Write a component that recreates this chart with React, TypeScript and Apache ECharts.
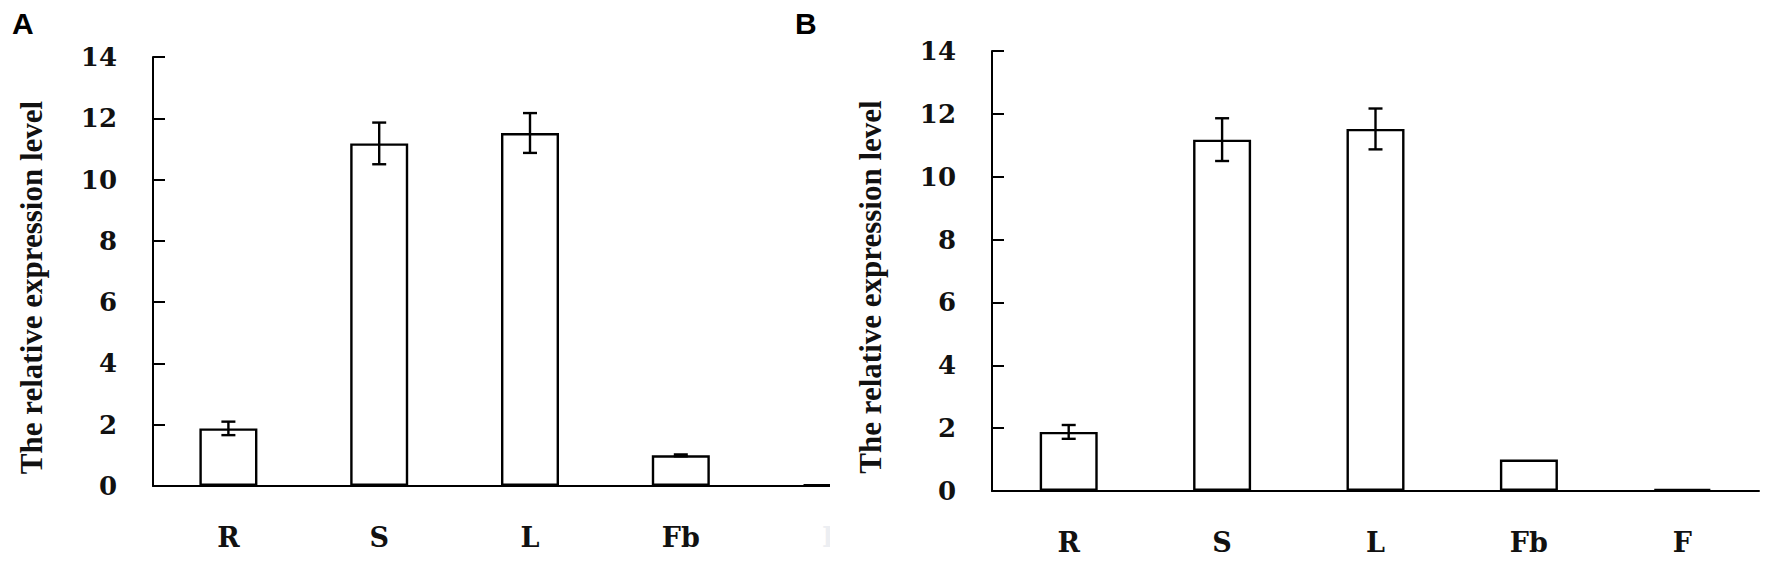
import React, { useEffect, useRef } from 'react';
import * as echarts from 'echarts';

// ---- data ----
const categories = ['R', 'S', 'L', 'Fb', 'F'];
const valuesA = [1.88, 11.18, 11.52, 1.0, 0.06];
const errorsA = [0.22, 0.68, 0.65, 0.03, 0];
const valuesB = [1.88, 11.18, 11.52, 1.0, 0.06];
const errorsB = [0.22, 0.68, 0.65, 0, 0];
const yMin = 0;
const yMax = 14;
const yStep = 2;
const yAxisTitle = 'The relative expression level';
const panelLetters = ['A', 'B'];

const serif = 'DejaVu Serif';
const titleFont = 'Liberation Serif';
const ink = '#111111';

function buildOption(
  values: number[],
  errors: number[],
  grid: { left: number; top: number; width: number; height: number },
  letter: string,
  letterX: number,
  fadedIndex: number,
) {
  const lineStyle = { color: '#000', width: 2 };
  return {
    animation: false,
    backgroundColor: 'transparent',
    grid: { ...grid, containLabel: false },
    graphic: [
      {
        type: 'text',
        left: letterX,
        top: 8,
        style: {
          text: letter,
          fontFamily: 'Liberation Sans',
          fontWeight: 'bold',
          fontSize: 30,
          fill: '#000',
        },
      },
    ],
    xAxis: {
      type: 'category',
      data: categories,
      boundaryGap: true,
      axisLine: { show: true, lineStyle },
      axisTick: { show: false },
      splitLine: { show: false },
      axisLabel: {
        margin: 38,
        fontFamily: serif,
        fontWeight: 'bold',
        fontSize: 27,
        color: (_v: any, i: number) => (i === fadedIndex ? '#eceef2' : ink),
      },
    },
    yAxis: {
      type: 'value',
      min: yMin,
      max: yMax,
      interval: yStep,
      name: yAxisTitle,
      nameLocation: 'middle',
      nameRotate: 90,
      nameGap: 106,
      nameTextStyle: {
        fontFamily: titleFont,
        fontWeight: 'bold',
        fontSize: 31,
        color: ink,
        padding: [0, 32, 0, 0],
      },
      axisLine: { show: true, lineStyle },
      axisTick: { show: true, inside: true, length: 12, lineStyle },
      splitLine: { show: false },
      axisLabel: {
        margin: 36,
        fontFamily: serif,
        fontWeight: 'bold',
        fontSize: 26,
        color: ink,
      },
    },
    series: [
      {
        type: 'bar',
        data: values,
        barWidth: 58,
        itemStyle: { color: '#ffffff', borderColor: '#000', borderWidth: 2.4 },
        z: 2,
      },
      {
        type: 'custom',
        data: values.map((v, i) => [i, v - errors[i], v + errors[i]]),
        encode: { x: 0, y: [1, 2] },
        z: 3,
        renderItem: (_params: any, api: any) => {
          const x = api.value(0);
          const lo = api.value(1);
          const hi = api.value(2);
          if (hi - lo <= 0) return null;
          const pLo = api.coord([x, lo]);
          const pHi = api.coord([x, hi]);
          const cap = 7;
          const style = { stroke: '#000', lineWidth: 2.4 };
          return {
            type: 'group',
            children: [
              { type: 'line', shape: { x1: pHi[0], y1: pHi[1], x2: pLo[0], y2: pLo[1] }, style },
              { type: 'line', shape: { x1: pHi[0] - cap, y1: pHi[1], x2: pHi[0] + cap, y2: pHi[1] }, style },
              { type: 'line', shape: { x1: pLo[0] - cap, y1: pLo[1], x2: pLo[0] + cap, y2: pLo[1] }, style },
            ],
          };
        },
      },
    ],
  };
}

function Panel(props: { option: any; width: number; height: number }) {
  const ref = useRef<HTMLDivElement>(null);
  useEffect(() => {
    if (!ref.current) return;
    const chart = echarts.init(ref.current, undefined, { renderer: 'svg' });
    chart.setOption(props.option);
    return () => chart.dispose();
  }, []);
  return <div ref={ref} style={{ width: props.width, height: props.height }} />;
}

export default function App() {
  const optionA = buildOption(
    valuesA,
    errorsA,
    { left: 153, top: 57, width: 754, height: 429 },
    panelLetters[0],
    12,
    4,
  );
  const optionB = buildOption(
    valuesB,
    errorsB,
    { left: 202, top: 51, width: 767, height: 440 },
    panelLetters[1],
    5,
    -1,
  );
  return (
    <div
      style={{
        position: 'absolute',
        left: 0,
        top: 0,
        width: 1772,
        height: 570,
        background: '#ffffff',
        overflow: 'hidden',
      }}
    >
      <div style={{ position: 'absolute', left: 790, top: 0, width: 982, height: 570 }}>
        <Panel option={optionB} width={982} height={570} />
      </div>
      <div style={{ position: 'absolute', left: 0, top: 0, width: 830, height: 570, overflow: 'hidden' }}>
        <Panel option={optionA} width={1000} height={570} />
      </div>
    </div>
  );
}
